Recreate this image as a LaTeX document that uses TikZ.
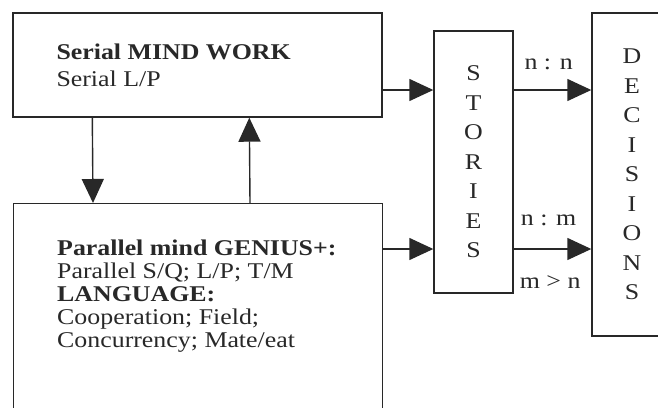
\documentclass[tikz,border=0pt]{standalone}
\usepackage{fontspec}
\setmainfont{Liberation Serif}[FakeStretch=1.15]
\usetikzlibrary{arrows.meta}
\definecolor{inkGray}{RGB}{40,40,40}
\begin{document}
\begin{tikzpicture}
[x=1pt,y=-1pt,
  boxDecorate/.style={shape=rectangle,draw=inkGray,line width=1.4pt,inner sep=0pt},%
  textDecorate/.style={text=inkGray,align=left,inner sep=0pt,font=\fontsize{22.5}{23}\selectfont},%
  letterDecorate/.style={text=inkGray,align=center,font=\fontsize{22.5}{29.5}\selectfont},%
  labelDecorate/.style={text=inkGray,font=\fontsize{22.5}{23}\selectfont},%
  arrowLine/.style={-{Triangle[length=24pt,width=22pt]},line width=1.4pt,draw=inkGray}]
\useasboundingbox (0,0) rectangle (658,407);
\clip (0,0) rectangle (658,407);
%% boxes
\node (serial) at (197.5,65) [boxDecorate,minimum width=369pt,minimum height=104pt] {};
\node (parallel) at (13,203) [boxDecorate,anchor=north west,minimum width=369pt,minimum height=240pt] {};
\node (stories) at (473.5,162) [boxDecorate,letterDecorate,minimum width=79pt,minimum height=262pt] {S\\T\\O\\R\\I\\E\\S};
\node (decisions) at (632,174.5) [boxDecorate,letterDecorate,minimum width=80pt,minimum height=323pt] {D\\E\\C\\I\\S\\I\\O\\N\\S};
%% box texts
\node (serialText) at ([xshift=44pt,yshift=-31pt]serial.north west) [textDecorate,anchor=north west]
  {\textbf{Serial MIND WORK}\\[4pt]Serial L/P};
\node (parallelText) at ([xshift=44pt,yshift=-37pt]parallel.north west) [textDecorate,anchor=north west]
  {\textbf{Parallel mind GENIUS+:}\\Parallel S/Q; L/P; T/M\\\textbf{LANGUAGE:}\\Cooperation; Field;\\Concurrency; Mate/eat};
%% vertical arrows
\draw[arrowLine] ([xshift=80pt]serial.south west) -- ([xshift=80pt]parallel.north west);
\draw[arrowLine] ([xshift=237pt]parallel.north west) -- ([xshift=237pt]serial.south west);
%% horizontal arrows
\coordinate (upperRow) at ([yshift=-25pt]serial.east);
\coordinate (lowerRow) at ([yshift=-46pt]parallel.north east);
\foreach \row in {upperRow,lowerRow}
{
  \draw[arrowLine] (\row) -- (\row -| stories.west);
  \draw[arrowLine] (\row -| stories.east) -- (\row -| decisions.west);
}
%% ratio labels
\path (upperRow -| stories.east) -- (upperRow -| decisions.west)
  node[labelDecorate,pos=0.45,above=17pt] (nn) {n : n};
\path (lowerRow -| stories.east) -- (lowerRow -| decisions.west)
  node[labelDecorate,pos=0.45,above=19.5pt] (nm) {n : m}
  node[labelDecorate,pos=0.47,below=23pt] (mn) {m > n};
\end{tikzpicture}
\end{document}
